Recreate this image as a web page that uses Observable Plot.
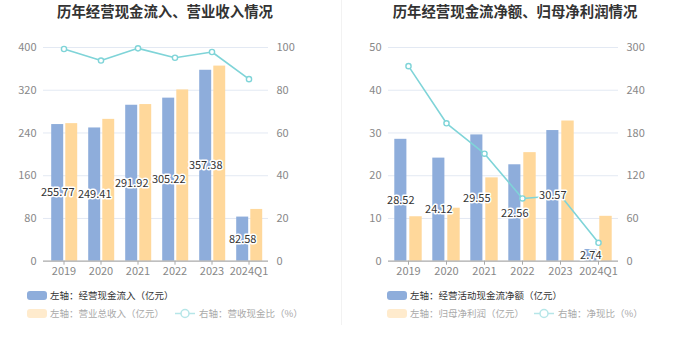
<!DOCTYPE html>
<html><head><meta charset="utf-8">
<script src="https://cdn.jsdelivr.net/npm/d3@7"></script>
<script src="https://cdn.jsdelivr.net/npm/@observablehq/plot@0.6"></script>
<style>
body{margin:0;background:#fff;font-family:"Noto Sans CJK SC","Noto Sans",sans-serif;}
#page{position:relative;width:680px;height:349px;overflow:hidden;background:#fff;}
.title{position:absolute;top:1px;width:340px;text-align:center;font-size:14.4px;font-weight:bold;color:#333;line-height:20px;white-space:nowrap;}
.plot{position:absolute;top:30px;}
.divider{position:absolute;left:341px;top:0;width:1px;height:325px;background:#f2f2f2;}
.lg{position:absolute;font-size:9.5px;line-height:14px;white-space:nowrap;}
.sw{position:absolute;width:20px;height:9px;border-radius:3px;}
.ls{position:absolute;}
</style></head>
<body>
<div id="page">
  <div class="title" style="left:-5px">历年经营现金流入、营业收入情况</div>
  <div class="title" style="left:345px">历年经营现金流净额、归母净利润情况</div>
  <div class="divider"></div>
  <div id="p1" class="plot" style="left:0px"></div>
  <div id="p2" class="plot" style="left:340px"></div>

  <div class="sw" style="left:27px;top:291px;background:#8eaddb"></div>
  <div class="lg" style="left:50px;top:288px;color:#333">左轴：经营现金流入（亿元）</div>
  <div class="sw" style="left:27px;top:309px;background:#ffebcd"></div>
  <div class="lg" style="left:50px;top:306px;color:#aaa">左轴：营业总收入（亿元）</div>
  <svg class="ls" style="left:175px;top:308px" width="20" height="11"><line x1="0" y1="5.5" x2="20" y2="5.5" stroke="#b6e6e8" stroke-width="1.5"/><circle cx="10" cy="5.5" r="4" fill="#fff" stroke="#b6e6e8" stroke-width="1.5"/></svg>
  <div class="lg" style="left:199px;top:306px;color:#aaa">右轴：营收现金比（%）</div>

  <div class="sw" style="left:387px;top:291px;background:#8eaddb"></div>
  <div class="lg" style="left:410px;top:288px;color:#333">左轴：经营活动现金流净额（亿元）</div>
  <div class="sw" style="left:387px;top:309px;background:#ffebcd"></div>
  <div class="lg" style="left:410px;top:306px;color:#aaa">左轴：归母净利润（亿元）</div>
  <svg class="ls" style="left:534px;top:308px" width="20" height="11"><line x1="0" y1="5.5" x2="20" y2="5.5" stroke="#b6e6e8" stroke-width="1.5"/><circle cx="10" cy="5.5" r="4" fill="#fff" stroke="#b6e6e8" stroke-width="1.5"/></svg>
  <div class="lg" style="left:558px;top:306px;color:#aaa">右轴：净现比（%）</div>
</div>
<script>
const categories = ["2019","2020","2021","2022","2023","2024Q1"];
// left chart
const cashInflow = [255.77,249.41,291.92,305.22,357.38,82.58];
const totalRevenue = [257.5,265.5,293.2,320.6,365.2,96.9];
const revenueCashRatio = [99.3,93.9,99.6,95.2,97.9,85.2];
const leftTicks1 = [0,80,160,240,320,400];
const rightTicks1 = [0,20,40,60,80,100];
// right chart
const netCashFlow = [28.52,24.12,29.55,22.56,30.57,2.74];
const netProfit = [10.4,12.4,19.5,25.4,32.8,10.5];
const netCashRatio = [273.8,193.6,150.9,88.1,92.3,25.8];
const leftTicks2 = [0,10,20,30,40,50];
const rightTicks2 = [0,60,120,180,240,300];

const BLUE = "#8eaddb", ORANGE = "#ffd89b", LINE = "#7fd4d8";
const FONT = '"Noto Sans CJK SC","Noto Sans",sans-serif';

function chart({a, b, r, lTicks, rTicks, mL, mR, blueIns, orangeIns, labelDx}) {
  const yMax = lTicks[lTicks.length-1], rMax = rTicks[rTicks.length-1];
  const k = yMax / rMax;
  const rows = categories.map((c,i)=>({c, a:a[i], b:b[i], r:r[i]}));
  return Plot.plot({
    width: 340, height: 255,
    marginTop: 17, marginBottom: 24.3, marginLeft: mL, marginRight: mR,
    x: {domain: categories, padding: 0, axis: null, label: null},
    y: {domain: [0, yMax], axis: null, label: null},
    style: {fontFamily: FONT, fontSize: "11px", background: "transparent"},
    marks: [
      Plot.gridY(lTicks.slice(1), {stroke: "#e3e9f3", strokeOpacity: 1, strokeWidth: 1}),
      Plot.barY(rows, {x: "c", y: "a", fill: BLUE, insetLeft: blueIns[0], insetRight: blueIns[1]}),
      Plot.barY(rows, {x: "c", y: "b", fill: ORANGE, insetLeft: orangeIns[0], insetRight: orangeIns[1]}),
      Plot.ruleY([0], {stroke: "#aaa", strokeWidth: 1.2}),
      Plot.axisX({anchor: "bottom", label: null, tickSize: 4, tickPadding: 2, stroke: "#aaa", fill: "#888", fontSize: 11}),
      Plot.text(lTicks, {y: d => d, text: d => String(d), frameAnchor: "left", textAnchor: "end", dx: -7, fill: "#888", fontSize: 11}),
      Plot.text(rTicks, {y: d => d * k, text: d => String(d), frameAnchor: "right", textAnchor: "start", dx: 8, fill: "#888", fontSize: 11}),
      Plot.line(rows, {x: "c", y: d => d.r * k, stroke: LINE, strokeWidth: 1.6}),
      Plot.dot(rows, {x: "c", y: d => d.r * k, r: 2.6, fill: "white", stroke: LINE, strokeWidth: 1.4}),
      Plot.text(rows, {x: "c", y: d => d.a / 2, text: d => d.a.toFixed(2), dx: labelDx, fill: "#333", stroke: "white", strokeWidth: 3, fontSize: 11})
    ]
  });
}

document.getElementById("p1").appendChild(chart({
  a: cashInflow, b: totalRevenue, r: revenueCashRatio,
  lTicks: leftTicks1, rTicks: rightTicks1, mL: 43, mR: 72,
  blueIns: [6.2, 18.8], orangeIns: [20.3, 4.8], labelDx: -6.3
}));
document.getElementById("p2").appendChild(chart({
  a: netCashFlow, b: netProfit, r: netCashRatio,
  lTicks: leftTicks2, rTicks: rightTicks2, mL: 48, mR: 62,
  blueIns: [5.3, 20.6], orangeIns: [20.3, 5.3], labelDx: -7.7
}));
</script>
</body></html>
